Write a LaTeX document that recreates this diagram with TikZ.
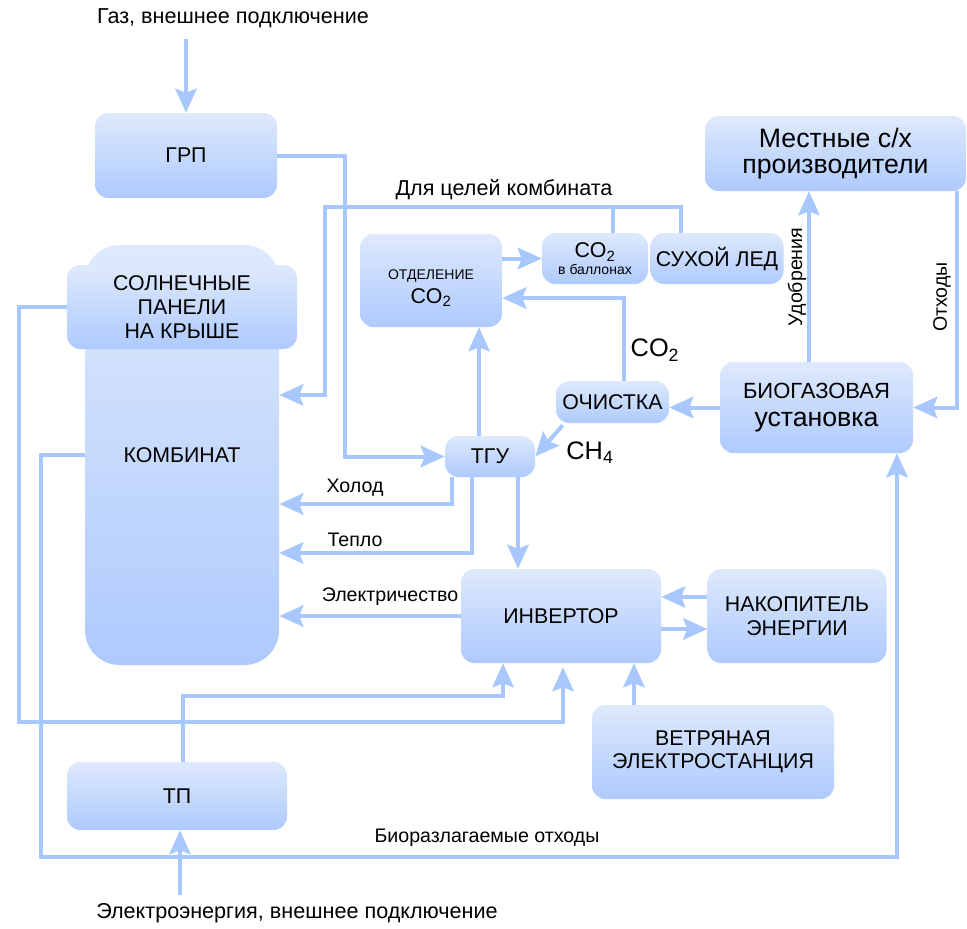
\documentclass[tikz,border=0pt]{standalone}
\usepackage{fontspec}
\setmainfont{Liberation Sans}
\usetikzlibrary{arrows.meta, calc, positioning}
\definecolor{boxtop}{RGB}{222,233,252}
\definecolor{boxbottom}{RGB}{174,202,253}
\definecolor{flowblue}{RGB}{168,199,252}

\begin{document}
\begin{tikzpicture}[
	x=0.75pt, y=-0.75pt,
	box/.style = {rectangle, rounded corners=10pt, top color=boxtop, bottom color=boxbottom, draw=none, align=center, inner sep=0pt, font=\fontsize{16}{17.5}\selectfont},
	boxsize/.style 2 args = {minimum width=#1*0.75pt, minimum height=#2*0.75pt},
	box text/.style = {align=center, inner sep=0pt},
	flow/.style = {draw=flowblue, line width=3pt, -{Stealth[length=18pt, width=16pt, inset=3pt]}},
	pipe/.style = {draw=flowblue, line width=3pt},
	flow label/.style = {font=\fontsize{14.7}{16}\selectfont, inner sep=0pt},
	outer label/.style = {font=\fontsize{16.2}{18}\selectfont, inner sep=0pt},
	big label/.style = {font=\fontsize{19}{21}\selectfont, inner sep=0pt}
]
\useasboundingbox (0,0) rectangle (967,928);

\node[outer label] (gaslbl) at (233,18) {Газ, внешнее подключение};
\node[box, boxsize={182}{85}] (grp) at (186,155.5) {ГРП};
\node[box, boxsize={194}{420}, rounded corners=26pt] (kombinat) at (182,455) {КОМБИНАТ};
\node[box, boxsize={230}{84}, font=\fontsize{16}{18}\selectfont] (solar) at (182,307) {СОЛНЕЧНЫЕ\\ПАНЕЛИ\\НА КРЫШЕ};
\node[box, boxsize={142}{93}] (otdel) at (431,280.5) {};
\node[box text, font=\fontsize{16}{17.5}\selectfont] (otdeltext) at ($(otdel)+(0,8)$) {{\fontsize{10.5}{12}\selectfont ОТДЕЛЕНИЕ}\\CO\textsubscript{2}};
\node[box, boxsize={106}{51}] (ballon) at (595,258.5) {CO\textsubscript{2}\\[-5pt]{\fontsize{10.5}{12}\selectfont в баллонах}};
\node[box, boxsize={133}{51}, right=1.5pt of ballon] (led) {СУХОЙ ЛЕД};
\node[box, boxsize={261}{75}, font=\fontsize{20}{19}\selectfont] (mestn) at (835.5,153.5) {Местные с/х\\производители};
\node[box, boxsize={113}{42}] (ochist) at (612.5,402) {ОЧИСТКА};
\node[box, boxsize={193}{91}, font=\fontsize{16.5}{18}\selectfont] (bio) at (816.5,407.5) {БИОГАЗОВАЯ\\[3pt]{\fontsize{20}{22}\selectfont установка}};
\node[box, boxsize={90}{41}] (tgu) at (490,456.5) {ТГУ};
\node[box, boxsize={200}{94}] (invert) at (561,616) {ИНВЕРТОР};
\node[box, boxsize={179}{94}, right=34.5pt of invert] (nakop) {НАКОПИТЕЛЬ\\ЭНЕРГИИ};
\node[box, boxsize={242}{94}] (veter) at (713,752) {ВЕТРЯНАЯ\\ЭЛЕКТРОСТАНЦИЯ};
\node[box, boxsize={220}{68}] (tp) at (177,796) {ТП};
\node[outer label] (elbl) at (297,913) {Электроэнергия, внешнее подключение};

\node[outer label] (celi) at (504,190) {Для целей комбината};
\node[big label] (co2lbl) at (655,350) {CO\textsubscript{2}};
\node[big label] (ch4lbl) at (590,453) {CH\textsubscript{4}};
\node[flow label, rotate=90] (udobr) at (797,277) {Удобрения};
\node[flow label, rotate=90] (othod) at (942,297) {Отходы};
\node[flow label] (holod) at (355,488) {Холод};
\node[flow label] (teplo) at (355,540) {Тепло};
\node[flow label] (elektr) at (390,597) {Электричество};
\node[flow label] (biorazl) at (487,838) {Биоразлагаемые отходы};

\coordinate (celiturn) at (325,207);
\coordinate (tgutop) at ($(tgu.north)+(-11,0)$);
\coordinate (ochtop) at ($(ochist.north)+(11.5,0)$);
\coordinate (biotop) at ($(bio.north)+(-7.5,0)$);
\coordinate (tgubot) at ($(tgu.south)+(28,0)$);
\coordinate (vettop) at ($(veter.north)+(-79,0)$);
\coordinate (tpin) at ($(tp.south)+(3,0)$);

\draw[flow] ([yshift=-8pt]gaslbl.south -| grp.north) -- (grp.north);
\draw[flow] (grp.east) -- ++(68,0) |- (tgu.west);
\draw[pipe] ($(led.north)+(-36,0)$) |- (celiturn);
\draw[flow] ($(ballon.north)+(18,0)$) |- (celiturn) |- ($(kombinat.east)+(0,-60)$);
\draw[flow] (tgutop) -- (tgutop |- otdel.south);
\draw[flow] (ochtop) |- ($(otdel.east)+(0,17.5)$);
\draw[flow] (ballon.west -| otdel.east) -- (ballon.west);
\draw[flow] ($(ochist.south west)+(7,2)$) -- (tgu.east);
\draw[flow] (bio.west) -- (bio.west -| ochist.east);
\draw[flow] (biotop) -- (biotop |- mestn.south);
\draw[flow] ($(mestn.south)+(121.5,0)$) |- (bio.east);
\draw[flow] ($(tgu.south)+(-38,0)$) |- ($(kombinat.east)+(0,49)$);
\draw[flow] ($(tgu.south)+(-18,0)$) |- ($(kombinat.east)+(0,98)$);
\draw[flow] (tgubot) -- (tgubot |- invert.north);
\draw[flow] (invert.west) -- (invert.west -| kombinat.east);
\draw[flow] ($(nakop.west)+(0,-19)$) -- ($(invert.east)+(0,-19)$);
\draw[flow] ($(invert.east)+(0,13)$) -- ($(nakop.west)+(0,13)$);
\draw[flow] (vettop) -- (vettop |- invert.south);
\draw[flow] ($(tp.north)+(6,0)$) -- ++(0,-66) -| ($(invert.south)+(-58,0)$);
\draw[flow] (solar.west) -- ++(-48,0) -- ++(0,415) -| ($(invert.south)+(2,4)$);
\draw[flow] (kombinat.west) -- ++(-44,0) -- ++(0,402) -| ($(bio.south)+(80.5,0)$);
\draw[flow] ([yshift=6pt]tpin |- elbl.north) -- (tpin);

\end{tikzpicture}
\end{document}
